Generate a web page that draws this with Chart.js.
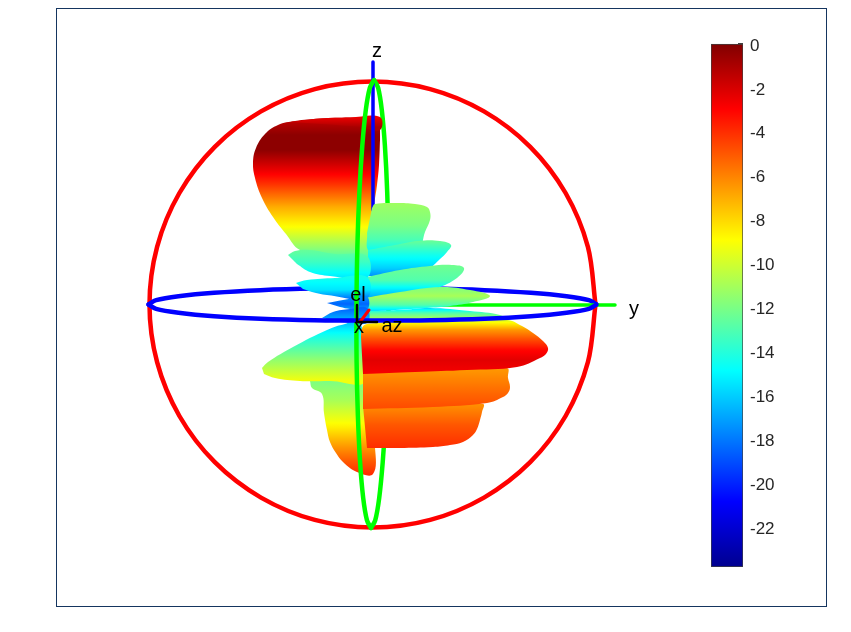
<!DOCTYPE html>
<html>
<head>
  <title>Antenna pattern</title>
  <script src="https://cdn.jsdelivr.net/npm/chart.js"></script>
  <style>
    body { margin: 0; background: #fff; }
    #wrap { position: relative; width: 851px; height: 632px; overflow: hidden; }
    #pattern { position: absolute; left: 0; top: 0; }
    #colorbar { position: absolute; left: 700px; top: 30px; }
  </style>
</head>
<body>
  <div id="wrap">
    <canvas id="pattern" width="851" height="632"></canvas>
    <canvas id="colorbar" width="100" height="550"></canvas>
  </div>

  <script>
    // colour scale
    const dbMin = -23.85;
    const dbMax = 0;
    const dbTicks = [0, -2, -4, -6, -8, -10, -12, -14, -16, -18, -20, -22];
    const jetStops = [[0, 0, 0, 143], [0.125, 0, 0, 255], [0.375, 0, 255, 255], [0.625, 255, 255, 0], [0.875, 255, 0, 0], [1, 128, 0, 0]];

    // reference lines
    const redCircle = [[595.5,304.5],[587.9,362.2],[565.6,416],[530.2,462.2],[484,497.6],[430.2,519.9],[372.5,527.5],[314.8,519.9],[261,497.6],[214.8,462.2],[179.4,416],[157.1,362.2],[149.5,304.5],[157.1,246.8],[179.4,193],[214.8,146.8],[261,111.4],[314.8,89.1],[372.5,81.5],[430.2,89.1],[484,111.4],[530.2,146.8],[565.6,193],[587.9,246.8],[595.5,304.5]];
    const blueBack = [[148.5,304.5],[156.1,300.2],[178.5,296.3],[214.1,292.8],[260.5,290.2],[314.5,288.6],[372.5,288],[430.5,288.6],[484.5,290.2],[530.9,292.8],[566.5,296.3],[588.9,300.2],[596.5,304.5]];
    const blueFront = [[148.5,304.5],[156.1,308.8],[178.5,312.7],[214.1,316.2],[260.5,318.8],[314.5,320.2],[372.5,320.5],[430.5,320.2],[484.5,318.8],[530.9,316.2],[566.5,312.7],[588.9,308.8],[596.5,304.5]];
    const greenLeft = [[374,80],[369.9,87.6],[365.8,110],[362.3,145.6],[359.4,192],[357.4,246],[356.5,304],[356.6,362],[357.9,416],[360.1,462.4],[363.2,498],[367,520.4],[371,528]];
    const greenRight = [[374,80],[378.1,87.6],[381.8,110],[384.9,145.6],[387.2,192],[388.4,246],[388.5,304],[387.6,362],[385.7,416],[382.7,462.4],[379.2,498],[375.2,520.4],[371,528]];
    const zAxis = [[373,62],[373,210]];
    const yAxis = [[430,305],[615,305]];
    const elAxis = [[357,305],[357,322]];
    const azAxis = [[357,322],[377,322]];
    const xAxis = [[360,322],[369,310]];

    // lobe outlines
    const bigLobe = [[380,117],[350,117.5],[320,118.5],[295,121],[278,125],[265,134],[256,148],[253,163],[255,178],[262,198],[273,217],[286,234],[300,250],[330,256],[367,258],[371,225],[374,205],[377,185],[379,165],[380,140]];
    const bigRim = [[290,122],[320,118.5],[350,117.5],[380,117],[380,130],[360,127],[330,124.5]];
    const rightLobe1 = [[372,208],[375,204],[397,203],[415,204],[427,207],[430,212],[430,220],[425,232],[418,250],[390,251],[369,251],[367,233]];
    const rightLobe2 = [[368,250],[395,245],[418,241],[440,241],[451,245],[447,252],[440,259],[427,270],[410,274],[395,276],[368,276]];
    const rightLobe3 = [[367,277],[400,270],[430,266],[452,265],[464,268],[457,278],[437,288],[407,295],[385,297],[367,298]];
    const rightLobe4 = [[365,298],[400,292],[440,287],[470,290],[490,296],[473,302],[450,306],[427,308],[395,310],[367,311]];
    const rightLobe5 = [[365,310],[400,310],[430,308],[470,311],[500,315],[507,320],[480,322],[365,322]];
    const lowRight1 = [[361,337],[362,328],[367,324],[440,320],[507,320],[522,326],[533,333],[543,341],[548,348],[546,354],[540,358],[517,367],[467,370],[415,372],[363,374]];
    const lowRight2 = [[363,370],[440,369],[507,368],[508,378],[510,387],[508,393],[503,397],[487,403],[433,407],[363,409]];
    const lowRight3 = [[363,406],[430,405],[483,404],[482,412],[480,420],[477,429],[473,435],[463,442],[450,445],[433,447],[400,448],[367,448]];
    const lowLeft1 = [[262,368],[268,362],[293,347],[327,330],[345,324],[360,322],[366,381],[330,381],[300,381],[275,378],[264,374]];
    const lowLeft2 = [[310,381],[312,388],[322,394],[324,413],[327,430],[330,442],[336,453],[343,462],[357,472],[373,474],[375,448],[366,380]];
    const leftLobe1 = [[288,255],[295,251],[310,250],[335,254],[367,256],[367,278],[330,276],[310,272],[297,264]];
    const leftLobe2 = [[296,283],[307,280],[335,278],[367,277],[367,298],[327,295],[312,292],[303,289]];
    const leftLobe3 = [[327,303],[343,300],[367,297],[367,310],[350,309],[340,307]];
    const leftLobe4 = [[322,318],[333,312],[350,309],[367,308],[367,323],[340,322]];

    // [picture row, dB] colour bands of each lobe
    const bigBands = [[120,-1.5],[135,-0.3],[150,-0.3],[170,-2.5],[183,-4],[195,-5.5],[207,-7],[227,-9],[247,-11.5],[258,-13]];
    const rimBands = [[117,-2.6],[127,-1]];
    const right1Bands = [[203,-11.2],[225,-12],[240,-13.2],[251,-14.8]];
    const right2Bands = [[241,-12.5],[255,-14.5],[268,-16],[276,-17.5]];
    const right3Bands = [[266,-12.3],[280,-13],[290,-15.5],[298,-17]];
    const right4Bands = [[287,-12],[296,-11],[305,-13],[311,-16]];
    const right5Bands = [[308,-16],[313,-13],[320,-10.5]];
    const low1Bands = [[321,-9.5],[330,-6.5],[340,-4.7],[350,-3.1],[360,-2.3],[374,-2.8]];
    const low2Bands = [[370,-6.5],[395,-5.3],[409,-4.7]];
    const low3Bands = [[404,-6.4],[425,-5],[448,-4]];
    const lowLeft1Bands = [[322,-16.5],[335,-14.5],[360,-11.5],[380,-9.3]];
    const lowLeft2Bands = [[381,-12],[400,-11],[423,-9],[447,-6.5],[462,-5],[474,-4]];
    const left1Bands = [[250,-12.5],[262,-13.5],[278,-15.5]];
    const left2Bands = [[278,-14.5],[290,-15.5],[298,-18]];
    const left3Bands = [[298,-17.5],[304,-18.5],[310,-17]];
    const left4Bands = [[309,-18.5],[318,-17],[323,-18]];

    const textLabels = [['z', 377, 51], ['y', 634, 309], ['el', 358, 295], ['x', 359, 327], ['az', 392, 326]];

    function jet(db) {
      const t = Math.min(1, Math.max(0, (db - dbMin) / (dbMax - dbMin)));
      let i = 0;
      while (i < jetStops.length - 2 && t > jetStops[i + 1][0]) i++;
      const a = jetStops[i], b = jetStops[i + 1];
      const k = (t - a[0]) / (b[0] - a[0]);
      return 'rgb(' + [1, 2, 3].map(c => Math.round(a[c] + (b[c] - a[c]) * k)).join(',') + ')';
    }

    function lobeFill(chart, bands) {
      if (!chart.chartArea) return jet(bands[0][1]);
      const y = chart.scales.y;
      const y0 = y.getPixelForValue(bands[0][0]);
      const y1 = y.getPixelForValue(bands[bands.length - 1][0]);
      const g = chart.ctx.createLinearGradient(0, y0, 0, y1);
      for (let i = 0; i < bands.length - 1; i++) {
        for (let s = 0; s <= 6; s++) {
          const row = bands[i][0] + (bands[i + 1][0] - bands[i][0]) * s / 6;
          const db = bands[i][1] + (bands[i + 1][1] - bands[i][1]) * s / 6;
          g.addColorStop((y.getPixelForValue(row) - y0) / (y1 - y0), jet(db));
        }
      }
      return g;
    }

    function lineSet(points, color, width, tension) {
      return { data: points, showLine: true, fill: false, borderColor: color, borderWidth: width, tension: tension, pointRadius: 0, borderCapStyle: 'round' };
    }

    function lobeSet(points, bands) {
      return { data: points, showLine: true, fill: 'shape', borderWidth: 0, tension: 0.4, pointRadius: 0, backgroundColor: c => lobeFill(c.chart, bands) };
    }

    // back to front
    const layers = [
      lineSet(redCircle, '#ff0000', 4.5, 0.33),
      lineSet(blueBack, '#0000ff', 4.5, 0.33),
      lineSet(greenRight, '#00ff00', 4.5, 0.33),
      lineSet(yAxis, '#00ff00', 3.5, 0),
      lobeSet(bigLobe, bigBands),
      lobeSet(bigRim, rimBands),
      lineSet(zAxis, '#0000ff', 3.5, 0),
      lobeSet(rightLobe1, right1Bands),
      lobeSet(rightLobe2, right2Bands),
      lobeSet(rightLobe3, right3Bands),
      lobeSet(rightLobe5, right5Bands),
      lobeSet(rightLobe4, right4Bands),
      lobeSet(leftLobe1, left1Bands),
      lobeSet(leftLobe2, left2Bands),
      lobeSet(leftLobe3, left3Bands),
      lobeSet(leftLobe4, left4Bands),
      lobeSet(lowLeft2, lowLeft2Bands),
      lobeSet(lowLeft1, lowLeft1Bands),
      lobeSet(lowRight3, low3Bands),
      lobeSet(lowRight2, low2Bands),
      lobeSet(lowRight1, low1Bands),
      lineSet(greenLeft, '#00ff00', 4.5, 0.33),
      lineSet(blueFront, '#0000ff', 4.5, 0.33),
      lineSet(xAxis, '#ff0000', 3, 0),
      lineSet(elAxis, '#000000', 2.5, 0),
      lineSet(azAxis, '#000000', 2.5, 0)
    ];
    layers.forEach((d, i) => { d.order = -i; });

    const frameAndText = {
      id: 'frameAndText',
      afterDraw(chart) {
        const { ctx, chartArea: a, scales } = chart;
        ctx.save();
        ctx.strokeStyle = '#15355f';
        ctx.lineWidth = 1;
        ctx.strokeRect(a.left - 0.5, a.top - 0.5, a.width + 1, a.height + 1);
        ctx.fillStyle = '#000';
        ctx.font = '20px "Liberation Sans", Arial, sans-serif';
        ctx.textAlign = 'center';
        ctx.textBaseline = 'middle';
        textLabels.forEach(l => ctx.fillText(l[0], scales.x.getPixelForValue(l[1]), scales.y.getPixelForValue(l[2])));
        ctx.restore();
      }
    };

    new Chart(document.getElementById('pattern'), {
      type: 'scatter',
      data: { datasets: layers },
      plugins: [frameAndText],
      options: {
        responsive: false,
        animation: false,
        layout: { padding: { left: 57, right: 25, top: 9, bottom: 26 } },
        plugins: { legend: { display: false }, tooltip: { enabled: false } },
        scales: {
          x: { display: false, min: 57, max: 826 },
          y: { display: false, min: 9, max: 606, reverse: true }
        }
      }
    });

    new Chart(document.getElementById('colorbar'), {
      type: 'bar',
      data: {
        labels: ['dB'],
        datasets: [{
          data: [[dbMin, dbMax]],
          barPercentage: 1,
          categoryPercentage: 1,
          borderWidth: 1,
          borderColor: '#404040',
          borderSkipped: false,
          backgroundColor: c => {
            const area = c.chart.chartArea;
            if (!area) return jet(dbMin);
            const y = c.chart.scales.y;
            const g = c.chart.ctx.createLinearGradient(0, y.getPixelForValue(dbMin), 0, y.getPixelForValue(dbMax));
            jetStops.forEach(s => g.addColorStop(s[0], 'rgb(' + s[1] + ',' + s[2] + ',' + s[3] + ')'));
            return g;
          }
        }]
      },
      options: {
        responsive: false,
        animation: false,
        layout: { padding: { left: 11, right: 0, top: 13.5, bottom: 13 } },
        plugins: { legend: { display: false }, tooltip: { enabled: false } },
        scales: {
          x: { display: false },
          y: {
            position: 'right',
            min: dbMin,
            max: dbMax,
            z: 1,
            afterBuildTicks: s => { s.ticks = dbTicks.map(v => ({ value: v })); },
            afterFit: s => { s.width = 57; s.paddingTop = 0; s.paddingBottom = 0; },
            border: { display: false },
            grid: { drawOnChartArea: false, tickLength: -5, tickColor: '#404040', tickWidth: 1 },
            ticks: { padding: 12, labelOffset: 2.5, color: '#262626', font: { family: '"Liberation Sans", Arial, sans-serif', size: 17 }, callback: v => String(v) }
          }
        }
      }
    });
  </script>
</body>
</html>
